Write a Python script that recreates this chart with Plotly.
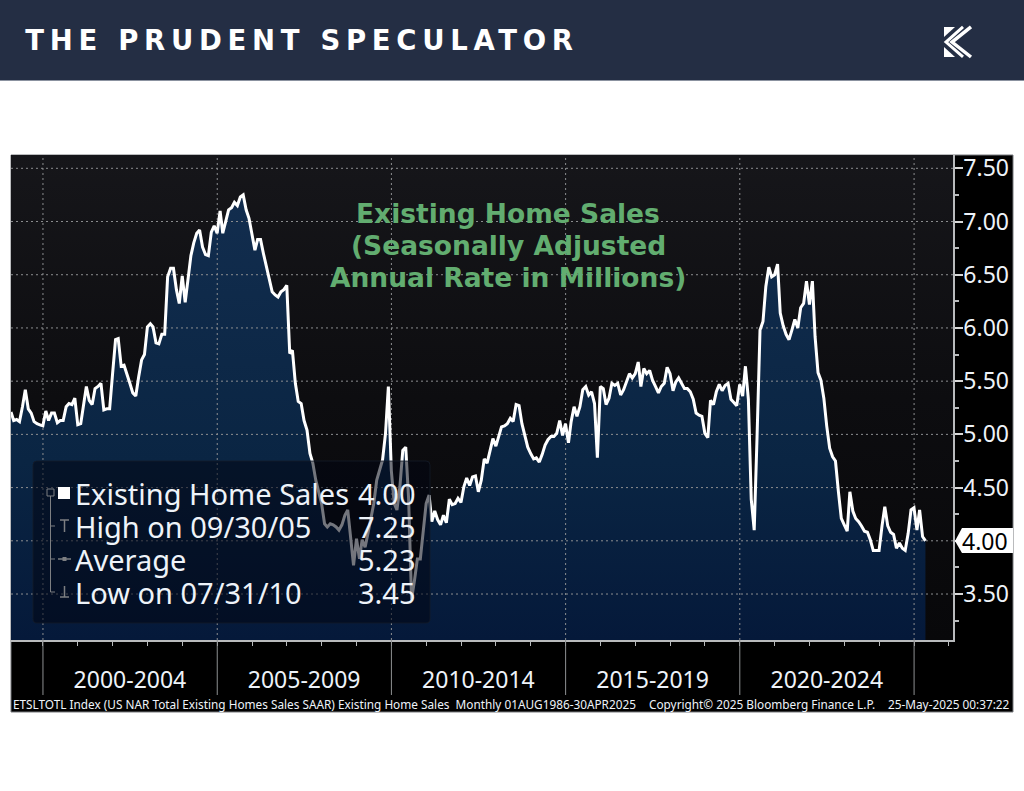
import pandas as pd
import plotly.graph_objects as go

# --- Data (monthly, SAAR in millions) ---
sales_1999_2003 = [5.21, 5.13, 5.14, 5.12, 5.26, 5.42, 5.24, 5.20, 5.12, 5.10, 5.09, 5.08,
                   5.22, 5.13, 5.20, 5.20, 5.11, 5.13, 5.13, 5.26, 5.29, 5.28, 5.34, 5.09,
                   5.10, 5.29, 5.45, 5.32, 5.28, 5.43, 5.45, 5.48, 5.23, 5.24, 5.24, 5.57,
                   5.89, 5.90, 5.64, 5.65, 5.57, 5.48, 5.39, 5.36, 5.54, 5.70, 5.75, 6.01,
                   6.04, 6.01, 5.86, 5.85, 5.94, 5.94, 6.48, 6.56, 6.56, 6.36, 6.23, 6.49]
sales_2004_2008 = [6.24, 6.48, 6.68, 6.80, 6.89, 6.92, 6.76, 6.69, 6.68, 6.90, 6.96, 6.89,
                   7.10, 6.89, 7.00, 7.11, 7.13, 7.18, 7.15, 7.23, 7.25, 7.11, 7.03, 6.89,
                   6.73, 6.83, 6.83, 6.70, 6.58, 6.48, 6.34, 6.31, 6.29, 6.34, 6.36, 6.40,
                   5.76, 5.79, 5.48, 5.31, 5.29, 5.13, 5.04, 4.82, 4.73, 4.57, 4.45, 4.35,
                   4.16, 4.13, 4.16, 4.15, 4.13, 4.10, 4.15, 4.24, 4.29, 4.01, 3.77, 4.02]
sales_2009_2013 = [3.83, 4.01, 3.94, 4.07, 4.23, 4.35, 4.57, 4.66, 4.76, 5.01, 5.45, 4.66,
                   4.35, 4.29, 4.51, 4.85, 4.88, 4.40, 3.45, 3.63, 3.83, 3.83, 4.10, 4.35,
                   4.43, 4.18, 4.28, 4.20, 4.15, 4.24, 4.17, 4.39, 4.34, 4.35, 4.40, 4.36,
                   4.51, 4.59, 4.52, 4.60, 4.61, 4.46, 4.57, 4.77, 4.73, 4.84, 4.96, 4.89,
                   4.98, 5.07, 5.08, 5.10, 5.15, 5.12, 5.28, 5.27, 5.10, 4.98, 4.88, 4.82]
sales_2014_2018 = [4.77, 4.78, 4.74, 4.81, 4.90, 4.95, 4.98, 4.98, 5.01, 5.13, 4.99, 5.10,
                   4.92, 5.12, 5.26, 5.17, 5.26, 5.42, 5.45, 5.37, 5.40, 5.29, 4.78, 5.45,
                   5.43, 5.28, 5.34, 5.48, 5.46, 5.48, 5.37, 5.42, 5.49, 5.57, 5.53, 5.57,
                   5.68, 5.45, 5.62, 5.57, 5.60, 5.51, 5.45, 5.39, 5.45, 5.48, 5.63, 5.57,
                   5.41, 5.49, 5.53, 5.48, 5.43, 5.43, 5.40, 5.33, 5.20, 5.18, 5.17, 5.01]
sales_2019_2025 = [4.97, 5.32, 5.28, 5.40, 5.47, 5.41, 5.46, 5.48, 5.33, 5.30, 5.27, 5.47,
                   5.36, 5.64, 5.33, 4.39, 4.10, 4.98, 5.98, 6.06, 6.39, 6.57, 6.48, 6.50,
                   6.60, 6.14, 6.02, 5.94, 5.89, 5.98, 6.08, 6.00, 6.19, 6.23, 6.44, 6.22,
                   6.44, 5.92, 5.58, 5.51, 5.34, 5.08, 4.87, 4.79, 4.75, 4.46, 4.21, 4.15,
                   4.09, 4.46, 4.28, 4.21, 4.18, 4.14, 4.09, 4.08, 4.01, 3.91, 3.91, 3.91,
                   4.14, 4.32, 4.14, 4.08, 4.06, 3.93, 3.98, 3.93, 3.91, 4.07, 4.29, 4.31,
                   4.10, 4.29, 4.04, 4.00]
sales = sales_1999_2003 + sales_2004_2008 + sales_2009_2013 + sales_2014_2018 + sales_2019_2025
months = pd.date_range("1999-01-31", periods=len(sales), freq="ME")

y_ticks = [3.5, 4.0, 4.5, 5.0, 5.5, 6.0, 6.5, 7.0, 7.5]
y_tick_labels = ["3.50", "", "4.50", "5.00", "5.50", "6.00", "6.50", "7.00", "7.50"]
y_minor = [3.25, 3.75, 4.25, 4.75, 5.25, 5.75, 6.25, 6.75, 7.25]
period_starts = ["2000-01-01", "2005-01-01", "2010-01-01", "2015-01-01", "2020-01-01", "2025-01-01"]
period_mids = ["2002-07-01", "2007-07-01", "2012-07-01", "2017-07-01", "2022-07-01"]
period_labels = ["2000-2004", "2005-2009", "2010-2014", "2015-2019", "2020-2024"]
year_ticks = [f"{y}-01-01" for y in range(1999, 2027)]

title_lines = ["Existing Home Sales", "(Seasonally Adjusted", "Annual Rate in Millions)"]
legend_names = ["Existing Home Sales", "High on 09/30/05", "Average", "Low on 07/31/10"]
legend_values = ["4.00", "7.25", "5.23", "3.45"]

X_RANGE = ["1999-01-31", "2026-02-13"]
Y_RANGE = [3.068, 7.625]

W, H = 1024, 791
TEXT = "#eef3f9"
GREY = "#7d7f82"


def fx(x):
    return x / W


def fy(y):
    return 1 - y / H


def pth(points, close=False):
    s = "M " + " L ".join(f"{fx(x):.5f},{fy(y):.5f}" for x, y in points)
    return s + " Z" if close else s


def paper_path(points, fill=None, line=None, width=1, close=True, layer="above"):
    return dict(type="path", xref="paper", yref="paper", layer=layer, path=pth(points, close),
                fillcolor=fill if fill else "rgba(0,0,0,0)",
                line=dict(color=line if line else "rgba(0,0,0,0)", width=width))


def paper_rect(x0, y0, x1, y1, fill, line=None, layer="below"):
    return dict(type="rect", xref="paper", yref="paper", layer=layer,
                x0=fx(x0), x1=fx(x1), y0=fy(y1), y1=fy(y0), fillcolor=fill,
                line=dict(color=line if line else "rgba(0,0,0,0)", width=1))


def note(text, x, y, size, color=TEXT, anchor="left", family="Noto Sans", weight="normal"):
    return dict(text=text, xref="paper", yref="paper", x=fx(x), y=fy(y), showarrow=False,
                xanchor=anchor, yanchor="middle",
                font=dict(size=size, color=color, family=family, weight=weight))


fig = go.Figure()

# --- Plot background gradient ---
fig.add_trace(go.Scatter(
    x=X_RANGE, y=[Y_RANGE[1], Y_RANGE[1]], mode="none", fill="tozeroy", hoverinfo="skip",
    fillgradient=dict(type="vertical", start=Y_RANGE[1], stop=Y_RANGE[0],
                      colorscale=[[0, "#16161a"], [0.5, "#0d0d10"], [1, "#08080a"]]),
))

# --- Area under the line ---
fig.add_trace(go.Scatter(
    x=months, y=sales, mode="none", fill="tozeroy", hoverinfo="skip",
    fillgradient=dict(type="vertical", start=7.25, stop=Y_RANGE[0],
                      colorscale=[[0, "#122d4e"], [0.6, "#0a2543"], [1, "#05193a"]]),
))

# --- Dotted grid sits on top of the area, under the line ---
grid_x, grid_y = [], []
for v in y_ticks:
    grid_x += [X_RANGE[0], X_RANGE[1], None]
    grid_y += [v, v, None]
for d in period_starts:
    grid_x += [d, d, None]
    grid_y += [Y_RANGE[0], Y_RANGE[1], None]
fig.add_trace(go.Scatter(x=grid_x, y=grid_y, mode="lines", hoverinfo="skip",
                         line=dict(color="#8c8e90", width=1, dash="2px,3px")))

fig.add_trace(go.Scatter(x=months, y=sales, mode="lines", name="Existing Home Sales",
                         line=dict(color="#ffffff", width=3)))

# --- Frame pieces ---
shapes = [
    paper_rect(0, 0, W, 80, "#242e44"),
    paper_rect(0, 80, W, 81, "#8b92a0"),
    paper_rect(11, 155, 1013, 712, "#000000", line="#77797c"),
]

# Logo
shapes += [
    paper_path([(971, 27), (952, 42), (971, 57)], line="#ffffff", width=3.5, close=False),
    paper_path([(963, 27), (946, 42), (963, 57)], line="#ffffff", width=3, close=False),
    paper_path([(944, 27), (955, 27), (944, 37)], fill="#ffffff"),
    paper_path([(944, 57), (955, 57), (944, 47)], fill="#ffffff"),
]

# Long separators between the date periods
for d in period_starts:
    shapes.append(dict(type="line", xref="x", yref="paper", layer="above", x0=d, x1=d,
                       y0=fy(695), y1=fy(640), line=dict(color="#8e9092", width=1)))

# Legend panel
shapes.append(dict(type="path", xref="paper", yref="paper", layer="above",
                   path=(f"M {fx(37):.5f},{fy(461):.5f} L {fx(426):.5f},{fy(461):.5f} "
                         f"Q {fx(430):.5f},{fy(461):.5f} {fx(430):.5f},{fy(465):.5f} "
                         f"L {fx(430):.5f},{fy(619):.5f} Q {fx(430):.5f},{fy(623):.5f} {fx(426):.5f},{fy(623):.5f} "
                         f"L {fx(37):.5f},{fy(623):.5f} Q {fx(33):.5f},{fy(623):.5f} {fx(33):.5f},{fy(619):.5f} "
                         f"L {fx(33):.5f},{fy(465):.5f} Q {fx(33):.5f},{fy(461):.5f} {fx(37):.5f},{fy(461):.5f} Z"),
                   fillcolor="rgba(1,6,18,0.55)", line=dict(color="rgba(20,28,40,0.8)", width=1)))

# Legend tree and glyphs
shapes += [
    paper_path([(58, 487), (70, 487), (70, 499), (58, 499)], fill="#ffffff"),
    paper_path([(47, 489), (54, 489), (54, 496), (47, 496)], line=GREY, width=1),
    paper_path([(50.5, 496), (50.5, 592), (55, 592)], line=GREY, width=1, close=False),
    paper_path([(50.5, 526), (55, 526)], line=GREY, width=1, close=False),
    paper_path([(50.5, 559), (55, 559)], line=GREY, width=1, close=False),
    paper_path([(60, 520), (69, 520)], line=GREY, width=1.5, close=False),
    paper_path([(64.5, 520), (64.5, 532)], line=GREY, width=1.5, close=False),
    paper_path([(58, 559), (71, 559)], line=GREY, width=1.5, close=False),
    paper_path([(62.5, 557), (66.5, 557), (66.5, 561), (62.5, 561)], fill=GREY),
    paper_path([(64.5, 586), (64.5, 597)], line=GREY, width=1.5, close=False),
    paper_path([(60, 597), (69, 597)], line=GREY, width=1.5, close=False),
]

# Last value tag
shapes.append(paper_path([(955, 541), (962, 528), (1013, 528), (1013, 553), (962, 553)], fill="#ffffff"))

# --- Texts ---
annotations = [note("THE PRUDENT SPECULATOR", 302, 40, 27.5, color="#ffffff", anchor="center",
                    family="DejaVu Sans", weight="bold")]
for i, line in enumerate(title_lines):
    annotations.append(note(line, 508, 213 + 32 * i, 26.5, color="#62ad70", anchor="center",
                            family="DejaVu Sans", weight="bold"))
for i, (name, val) in enumerate(zip(legend_names, legend_values)):
    row_y = 493 + 33 * i
    annotations.append(note(name, 73, row_y, 29))
    annotations.append(note(val, 418, row_y, 29, anchor="right"))
annotations.append(dict(text=f"{sales[-1]:.2f}", xref="paper", yref="y", x=fx(985), y=sales[-1],
                        showarrow=False, xanchor="center", yanchor="middle",
                        font=dict(size=23, color="#000000", family="Noto Sans")))
annotations += [
    note("ETSLTOTL Index (US NAR Total Existing Homes Sales SAAR) Existing Home Sales  Monthly 01AUG1986-30APR2025",
         11, 704, 11.8),
    note("Copyright© 2025 Bloomberg Finance L.P.", 647, 704, 11.8),
    note("25-May-2025 00:37:22", 1012, 704, 11.8, anchor="right"),
]

fig.update_layout(
    width=W, height=H,
    margin=dict(l=0, r=0, t=0, b=0),
    paper_bgcolor="#ffffff",
    plot_bgcolor="#000000",
    showlegend=False,
    hovermode="x unified",
    shapes=shapes,
    annotations=annotations,
    xaxis=dict(
        domain=[fx(11), fx(953)], range=X_RANGE, type="date", showgrid=False, zeroline=False,
        automargin=False,
        tickvals=period_mids, ticktext=period_labels, ticks="", ticklabelstandoff=19,
        tickfont=dict(size=23, color=TEXT, family="Noto Sans"),
        showline=True, linecolor="#b9bbbd", linewidth=1.5,
        minor=dict(tickvals=year_ticks, ticks="outside", ticklen=4, tickcolor="#b9bbbd", showgrid=False),
    ),
    yaxis=dict(
        domain=[fy(640), fy(155)], range=Y_RANGE, side="right", showgrid=False, zeroline=False,
        automargin=False,
        tickvals=y_ticks, ticktext=y_tick_labels, ticks="outside", ticklen=8, tickwidth=2,
        ticklabelstandoff=-4,
        tickcolor="#d8d8d8", tickfont=dict(size=23, color=TEXT, family="Noto Sans"),
        showline=True, linecolor="#b9bbbd", linewidth=1.5,
        minor=dict(tickvals=y_minor, ticks="outside", ticklen=4, tickcolor="#b9bbbd", showgrid=False),
    ),
)

page_js = """
document.documentElement.style.margin = '0';
document.body.style.margin = '0';
var gd = document.querySelector('.plotly-graph-div');
gd.style.position = 'absolute';
gd.style.top = '0';
gd.style.left = '0';
var st = document.createElement('style');
st.textContent = '.annotation[data-index="0"] text {letter-spacing: 5.7px;}';
document.head.appendChild(st);
"""
fig.write_html("out.html", post_script=page_js, config={"displayModeBar": False})
